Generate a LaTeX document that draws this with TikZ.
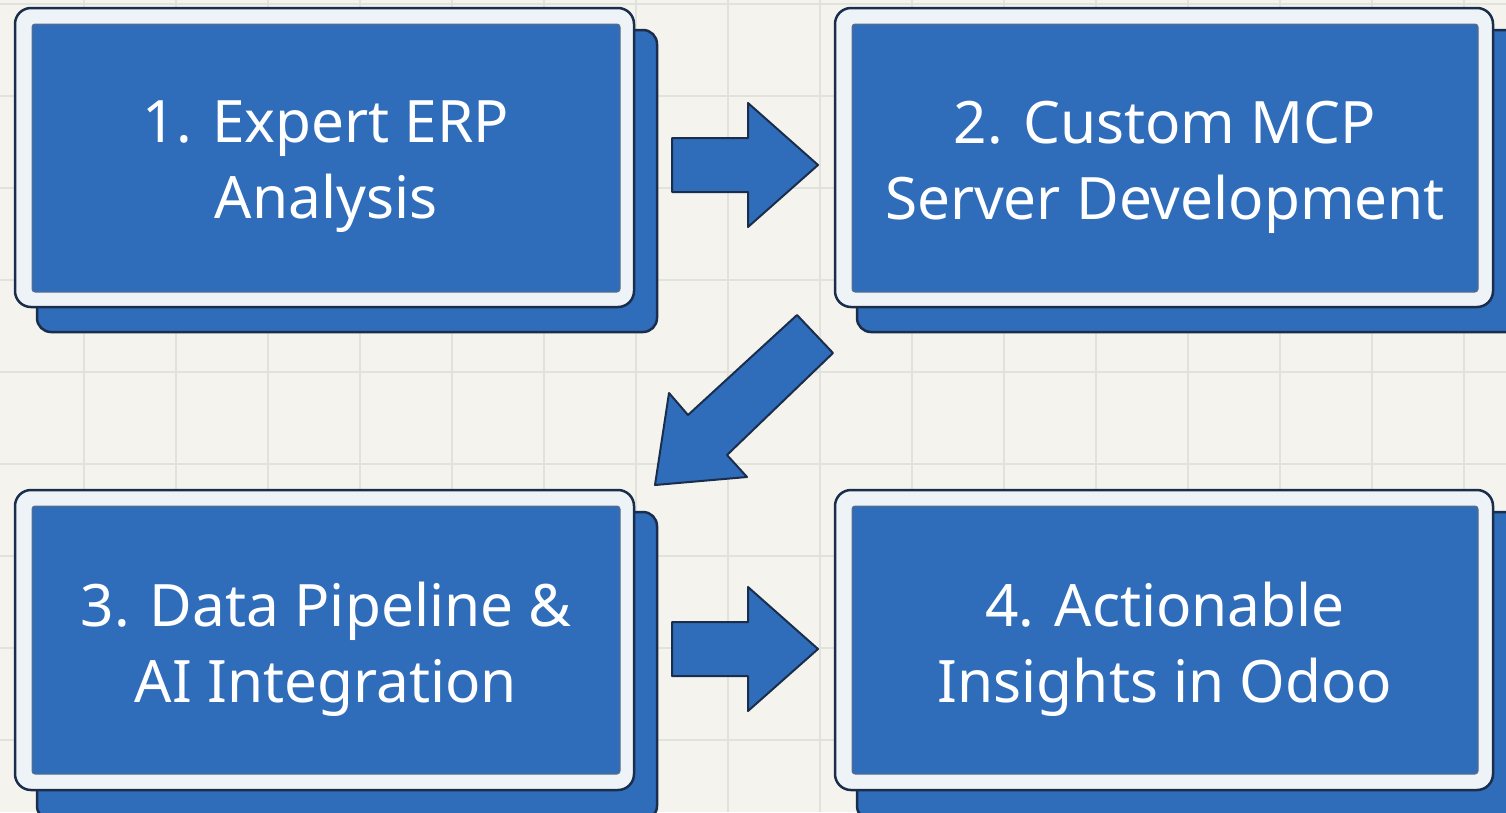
\documentclass[tikz,border=0pt]{standalone}
\usepackage{fontspec}
\setmainfont{Noto Sans}
\definecolor{bg}{HTML}{F4F3EE}
\definecolor{gridc}{HTML}{E2E2DC}
\definecolor{stepblue}{HTML}{2F6DBA}
\definecolor{outline}{HTML}{1A2E4C}
\definecolor{framec}{HTML}{EEF3F8}
\tikzset{
  backbox/.style={fill=stepblue, draw=outline, line width=2.5pt, rounded corners=14pt},
  framebox/.style={fill=framec, draw=outline, line width=2.5pt, rounded corners=16pt},
  innerbox/.style={fill=stepblue, draw=outline!70, line width=1pt, rounded corners=3pt, inner sep=0pt},
  steptext/.style={text=white, font=\fontsize{58.5}{76}\selectfont, align=center, inner sep=0pt},
  blockarrow/.style={fill=stepblue, draw=outline, line width=2pt, line join=round},
}
\begin{document}
\begin{tikzpicture}[x=1pt,y=-1pt]
\useasboundingbox (0,0) rectangle (1506,812);
\fill[bg] (0,0) rectangle (1506,812);
\foreach \x in {84,176,...,1500} \draw[gridc, line width=1.5pt] (\x,0) -- (\x,812);
\foreach \y in {4,96,...,812} \draw[gridc, line width=1.5pt] (0,\y) -- (1506,\y);
% step 1
\draw[backbox] (37,30) rectangle (657,332);
\draw[framebox] (15,8) rectangle (634,307);
\node[innerbox, minimum width=588pt, minimum height=268pt] (s1) at (326,158) {};
\node[steptext] (t1) at ([yshift=-9pt]s1.center) {1. Expert ERP\\Analysis};
% step 2
\draw[backbox] (857,30) rectangle (1520,332);
\draw[framebox] (835,8) rectangle (1493,307);
\node[innerbox, minimum width=626pt, minimum height=268pt] (s2) at (1165,158) {};
\node[steptext] (t2) at ([yshift=-9pt]s2.center) {2. Custom MCP\\Server Development};
% step 3
\draw[backbox] (37,512) rectangle (657,820);
\draw[framebox] (15,490) rectangle (634,790);
\node[innerbox, minimum width=588pt, minimum height=268pt] (s3) at (326,640) {};
\node[steptext] (t3) at ([yshift=-9pt]s3.center) {3. Data Pipeline \&\\AI Integration};
% step 4
\draw[backbox] (857,512) rectangle (1520,820);
\draw[framebox] (835,490) rectangle (1493,790);
\node[innerbox, minimum width=626pt, minimum height=268pt] (s4) at (1165,640) {};
\node[steptext] (t4) at ([yshift=-9pt]s4.center) {4. Actionable\\Insights in Odoo};
% arrows
\draw[blockarrow] (672,138) -- (748,138) -- (748,103) -- (818,165) -- (748,227) -- (748,192) -- (672,192) -- cycle;
\draw[blockarrow] (797,315) -- (833,353) -- (727,455) -- (747,477) -- (655,485) -- (669,393) -- (688,415) -- cycle;
\draw[blockarrow] (672,622) -- (748,622) -- (748,587) -- (818,649) -- (748,711) -- (748,676) -- (672,676) -- cycle;
\end{tikzpicture}
\end{document}
